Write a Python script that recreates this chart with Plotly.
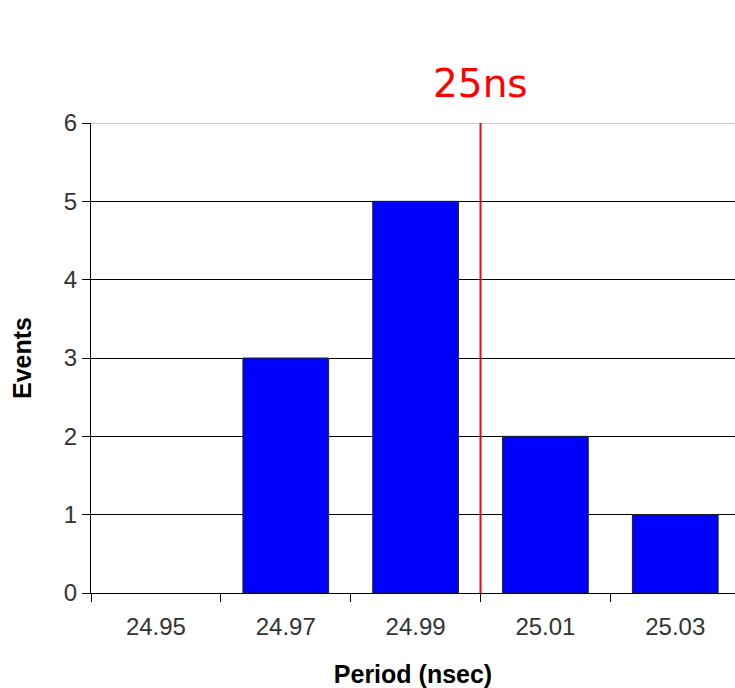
import plotly.graph_objects as go

categories = ["24.95", "24.97", "24.99", "25.01", "25.03"]
events = [0, 3, 5, 2, 1]
marker_label = "25ns"
marker_pos = 2.5  # boundary between 24.99 and 25.01

fig = go.Figure()
fig.add_trace(go.Bar(
    x=categories, y=events,
    marker=dict(color="#0000FF",
                line=dict(color="#222222", width=[0 if v == 0 else 1 for v in events])),
    width=0.66,
))

fig.add_shape(type="line", xref="paper", yref="y", x0=0, x1=1, y0=6, y1=6,
              line=dict(color="#999999", width=1), layer="above")
fig.add_shape(type="line", xref="x", yref="y", x0=marker_pos, x1=marker_pos,
              y0=0, y1=6, line=dict(color="#FF0000", width=2), layer="above")
fig.add_annotation(x=marker_pos, xref="x", y=1, yref="paper", yshift=40,
                   text=marker_label, showarrow=False, yanchor="middle",
                   font=dict(family="DejaVu Sans", size=39, color="#FF0000"))

fig.update_layout(
    width=735, height=688,
    margin=dict(l=91, r=0, t=123, b=95, pad=0),
    plot_bgcolor="white", paper_bgcolor="white",
    showlegend=False,
    font=dict(family="Liberation Sans, Arial, sans-serif", color="#333333"),
)
fig.update_xaxes(
    type="category", range=[-0.5, 4.46],
    tickson="boundaries", ticks="outside", ticklen=8, tickcolor="black",
    showline=True, linecolor="black", linewidth=1, showgrid=False,
    tickfont=dict(size=24, color="#333333"), ticklabelstandoff=12,
    title=dict(text="<b>Period (nsec)</b>", font=dict(size=25, color="black"), standoff=26),
)
fig.update_yaxes(
    range=[0, 6], dtick=1, ticks="outside", ticklen=8, tickcolor="black",
    showline=True, linecolor="black", linewidth=1,
    showgrid=True, gridcolor="black", gridwidth=1,
    tickfont=dict(size=24, color="#333333"),
    title=dict(text="<b>Events</b>", font=dict(size=25, color="black"), standoff=25),
    zeroline=False,
)

fig.write_html("out.html", config={"displayModeBar": False},
               post_script="document.body.style.margin='0';")
